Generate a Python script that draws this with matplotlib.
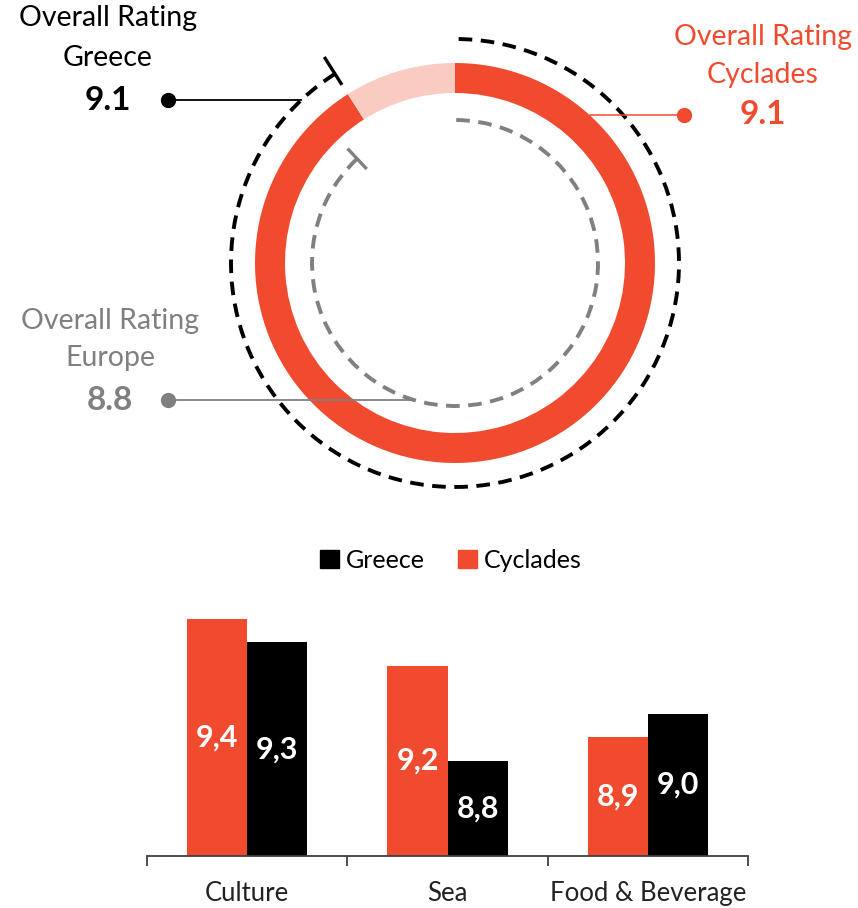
import numpy as np
import matplotlib.pyplot as plt
from matplotlib.patches import Arc, Patch

plt.rcParams["font.family"] = ["Lato", "DejaVu Sans"]

RED = "#F04B2F"
PINK = "#F9CBC1"
GRAY = "#808080"
AXIS_GRAY = "#404040"

# overall ratings (scale 0-10)
SCALE_MAX = 10.0
rating_greece = 9.1
rating_cyclades = 9.1
rating_europe = 8.8

# category ratings
categories = ["Culture", "Sea", "Food & Beverage"]
cyclades = [9.4, 9.2, 8.9]
greece = [9.3, 8.8, 9.0]

W, H = 858, 908
fig = plt.figure(figsize=(W / 100, H / 100), dpi=100)

# ---- donut part, drawn in pixel-like data coords (y up) ----
ax = fig.add_axes([0, 0, 1, 1])
ax.patch.set_visible(False)
cx, cy = 455, H - 263
R_RING, RING_W = 200, 30
R_OUT, R_IN = 224, 143


def end_angle(v):
    # clockwise from 12 o'clock
    return 90 - v / SCALE_MAX * 360


ax.pie([rating_cyclades, SCALE_MAX - rating_cyclades], colors=[RED, PINK],
       startangle=90, counterclock=False, radius=R_RING, center=(cx, cy),
       wedgeprops=dict(width=RING_W, linewidth=0))

dash = (0, (3.5, 2.2))
ax.add_patch(Arc((cx, cy), 2 * R_OUT, 2 * R_OUT, theta1=end_angle(rating_greece),
                 theta2=90, color="black", lw=2.8, linestyle=dash))
ax.add_patch(Arc((cx, cy), 2 * R_IN, 2 * R_IN, theta1=end_angle(rating_europe),
                 theta2=90, color=GRAY, lw=2.8, linestyle=dash))

# end ticks
a = np.radians(end_angle(rating_greece))
ax.plot([cx + 211 * np.cos(a), cx + 244 * np.cos(a)],
        [cy + 211 * np.sin(a), cy + 244 * np.sin(a)], color="black", lw=2.4,
        solid_capstyle="butt")
a = np.radians(end_angle(rating_europe))
ax.plot([cx + 129 * np.cos(a), cx + 157 * np.cos(a)],
        [cy + 129 * np.sin(a), cy + 157 * np.sin(a)], color=GRAY, lw=2.4,
        solid_capstyle="butt")


def leader(y_top, r, side, x_dot, color, lw):
    dy = (H - y_top) - cy
    dx = np.sqrt(r ** 2 - dy ** 2)
    x_end = cx - dx if side == "left" else cx + dx
    ax.plot([x_dot, x_end], [H - y_top] * 2, color=color, lw=lw)
    ax.plot([x_dot], [H - y_top], "o", color=color, ms=10)


leader(100, R_OUT, "left", 168, "black", 1.3)
leader(115, R_RING, "right", 684, RED, 1.1)
leader(400, R_IN, "left", 168, GRAY, 1.3)

labels = [
    (108, [18, 58, 100], "Greece", rating_greece, "black"),
    (763, [37, 75, 115], "Cyclades", rating_cyclades, RED),
    (110, [321, 358, 400], "Europe", rating_europe, GRAY),
]
for x, ys, name, val, col in labels:
    ax.text(x, H - ys[0], "Overall Rating", ha="center", va="center",
            fontsize=20.5, color=col)
    ax.text(x, H - ys[1], name, ha="center", va="center", fontsize=20.5, color=col)
    ax.text(x, H - ys[2], f"{val:.1f}", ha="center", va="center", fontsize=24,
            fontweight="bold", color=col)

ax.set_xlim(0, W)
ax.set_ylim(0, H)
ax.set_aspect("auto")
ax.axis("off")

# ---- bar chart ----
bx = fig.add_axes([147 / W, 52 / H, 601 / W, 261 / H])
x = np.arange(len(categories))
bw = 0.3
bx.bar(x - bw / 2, cyclades, bw, color=RED)
bx.bar(x + bw / 2, greece, bw, color="black")
bx.set_ylim(8.4, 9.5)
bx.set_xlim(-0.5, len(categories) - 0.5)

for xi, v in zip(x - bw / 2, cyclades):
    bx.text(xi, (8.4 + v) / 2, f"{v:.1f}".replace(".", ","), ha="center",
            va="center", color="white", fontsize=22, fontweight="bold")
for xi, v in zip(x + bw / 2, greece):
    bx.text(xi, (8.4 + v) / 2, f"{v:.1f}".replace(".", ","), ha="center",
            va="center", color="white", fontsize=22, fontweight="bold")

for s in ["top", "right", "left"]:
    bx.spines[s].set_visible(False)
bx.spines["bottom"].set_color(AXIS_GRAY)
bx.spines["bottom"].set_linewidth(1.3)
bx.set_yticks([])
bx.set_xticks(np.arange(len(categories) + 1) - 0.5)
bx.set_xticklabels([])
bx.tick_params(axis="x", which="major", length=7, width=1.3, color=AXIS_GRAY)
bx.set_xticks(x, minor=True)
bx.set_xticklabels(categories, minor=True, fontsize=18.5, color="#222222")
bx.tick_params(axis="x", which="minor", length=0, pad=18)

handles = [Patch(color="black", label="Greece"), Patch(color=RED, label="Cyclades")]
fig.legend(handles=handles, loc="center", bbox_to_anchor=(451 / W, 1 - 560 / H),
           ncol=2, frameon=False, fontsize=18, handlelength=0.75, handleheight=0.75,
           handletextpad=0.3, columnspacing=1.3)

fig.savefig("out.png", dpi=100)
